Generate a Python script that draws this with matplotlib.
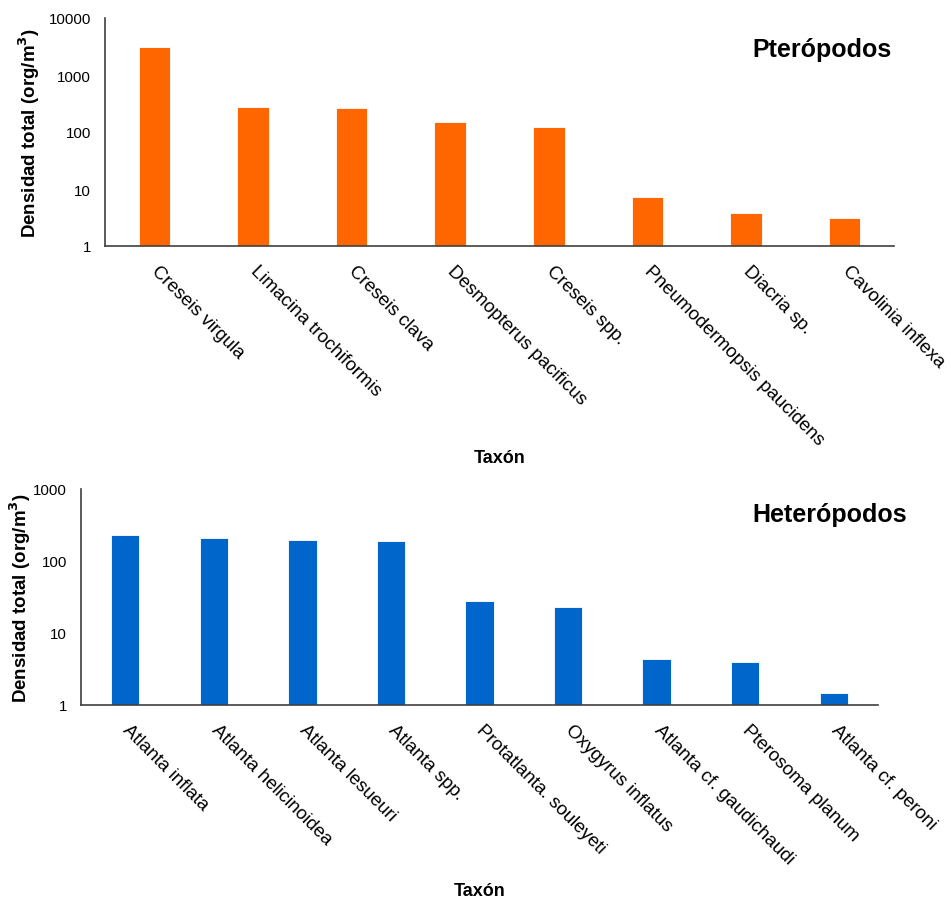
import matplotlib
matplotlib.use("Agg")
from matplotlib import pyplot as plt
from matplotlib.ticker import FixedLocator, FixedFormatter, NullLocator

plt.rcParams['font.family'] = ['Liberation Sans', 'DejaVu Sans']

# densidad total por taxón (org/m3)
ptero_taxa = ["Creseis virgula", "Limacina trochiformis", "Creseis clava",
              "Desmopterus pacificus", "Creseis spp.", "Pneumodermopsis paucidens",
              "Diacria sp.", "Cavolinia inflexa"]
ptero_dens = [3100, 275, 260, 152, 122, 7.2, 3.8, 3.1]

hetero_taxa = ["Atlanta inflata", "Atlanta helicinoidea", "Atlanta lesueuri",
               "Atlanta spp.", "Protatlanta. souleyeti", "Oxygyrus inflatus",
               "Atlanta cf. gaudichaudi", "Pterosoma planum", "Atlanta cf. peroni"]
hetero_dens = [232, 207, 196, 190, 28, 23, 4.4, 3.9, 1.47]

ptero_ticks = [1, 10, 100, 1000, 10000]
hetero_ticks = [1, 10, 100, 1000]

W, H = 951, 903


def panel(rect, taxa, dens, ticks, color, title, title_xy):
    l, t, r, b = rect
    ax = fig.add_axes([l / W, 1 - b / H, (r - l) / W, (b - t) / H])
    x = list(range(len(taxa)))
    ax.bar(x, dens, width=0.32, bottom=0, color=color,
           edgecolor='white', linewidth=0.6)
    ax.set_yscale('log')
    ax.set_ylim(ticks[0], ticks[-1])
    ax.set_xlim(-0.5, len(taxa) - 0.5)
    ax.yaxis.set_major_locator(FixedLocator(ticks))
    ax.yaxis.set_major_formatter(FixedFormatter([str(v) for v in ticks]))
    ax.yaxis.set_minor_locator(NullLocator())
    ax.tick_params(axis='y', length=0, pad=10, labelsize=10.8)
    ax.set_xticks(x)
    ax.set_xticklabels(taxa, rotation=-45, ha='left', va='center',
                       rotation_mode='anchor', fontsize=13.5)
    ax.tick_params(axis='x', length=0, pad=16)
    for s in ['top', 'right']:
        ax.spines[s].set_visible(False)
    for s in ['left', 'bottom']:
        ax.spines[s].set_color('#404040')
        ax.spines[s].set_linewidth(1.2)
    ax.set_ylabel('Densidad total (org/m$^\\mathbf{3}$)', fontsize=13.5,
                  fontweight='bold')
    ax.set_xlabel('Taxón', fontsize=13, fontweight='bold')
    fig.text(title_xy[0] / W, 1 - title_xy[1] / H, title, fontsize=18,
             fontweight='bold', ha='left', va='center')
    return ax


fig = plt.figure(figsize=(W / 100, H / 100), dpi=100)

ax1 = panel((105, 19, 894, 247), ptero_taxa, ptero_dens, ptero_ticks,
            '#FF6600', 'Pterópodos', (752, 50))
ax1.yaxis.set_label_coords(-0.08, 0.5)
ax1.xaxis.set_label_coords(0.5, -0.89)

ax2 = panel((81, 490, 878, 706), hetero_taxa, hetero_dens, hetero_ticks,
            '#0066CC', 'Heterópodos', (752, 515))
ax2.yaxis.set_label_coords(-0.06, 0.5)
ax2.xaxis.set_label_coords(0.5, -0.82)

fig.savefig('out.png', dpi=100)
